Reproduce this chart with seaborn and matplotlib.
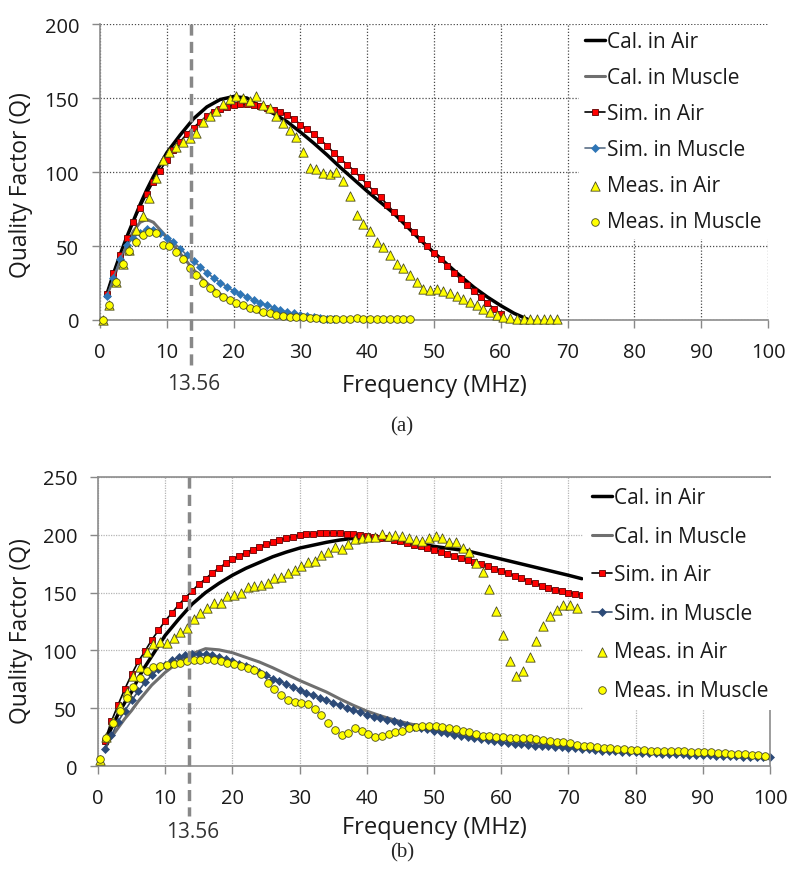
import numpy as np
import matplotlib
matplotlib.use("Agg")
import matplotlib.pyplot as plt
import seaborn as sns

# ---------------- (a) ----------------
cal_air_a_f = [1, 2, 3, 4, 5, 6, 7, 8, 9, 10, 12, 14, 16, 18, 20, 22, 24, 26, 28, 30,
               32, 34, 36, 38, 40, 42, 44, 46, 48, 50, 52, 54, 56, 58, 60, 62, 64]
cal_air_a = [17, 31, 44, 56, 67, 78, 88, 97, 105, 113, 125, 136, 144, 149, 151, 150,
             144, 139.5, 134, 127, 119.5, 111.5, 103, 95, 87, 79.5, 72, 63, 54, 45.5,
             37.5, 29.5, 22, 15.5, 9.7, 4.5, 0.5]

cal_mus_a_f = [1, 2, 3, 4, 5, 6, 7, 8, 9, 10, 12, 14, 16, 18, 20, 22, 24, 26, 28, 30]
cal_mus_a = [16, 28, 40, 51, 60, 66, 68, 66, 61, 56, 45, 34, 25, 17.5, 12, 8.2, 5,
             2.5, 1, 0.2]

sim_air_a_f = np.arange(1, 61)
sim_air_a = [17.3, 31.6, 44, 55.7, 66.5, 76, 85, 93.4, 101, 108,
             115, 120.5, 125.7, 130, 134, 137.6, 140.4, 142.7, 144, 145.4,
             146, 145.8, 145.4, 144.5, 143, 141.8, 140.4, 138.6, 136, 132,
             129, 125.7, 121.7, 117.8, 113, 108.8, 105, 101, 96.4, 91.6,
             87, 83, 78, 73, 68.6, 64, 59.6, 54.6, 50, 45.6,
             41, 36.6, 32, 27.5, 23.5, 19.4, 15.6, 11.3, 7.7, 3.8]

sim_mus_a_f = np.arange(1, 36)
sim_mus_a = [16, 28.7, 41, 50.5, 55.7, 59, 61.4, 61, 59, 55.7,
             52.4, 48.3, 43.8, 40, 35.9, 32, 28.4, 25.3, 22.6, 19.6,
             17.6, 15.6, 13.5, 11.7, 9.9, 8.4, 6.8, 5.4, 4.5, 3.6,
             2.7, 2.0, 1.4, 0.9, 0.6]

meas_air_a_f = np.arange(69) + 0.4
meas_air_a = [0, 10, 26, 38, 47, 60.7, 70.4, 82.4, 96, 108,
              113.8, 116.7, 120, 123, 126.4, 133.6, 138, 141.5, 146, 149.4,
              151.2, 150, 148.3, 151.2, 145, 143, 137.7, 133, 128.4, 123.5,
              113.8, 103, 102, 99.3, 98.6, 99.8, 94, 83.5, 70.9, 64.8,
              60.3, 52.8, 49, 43.8, 38, 35.4, 30.6, 25.8, 21.2, 20.3,
              20.8, 19.6, 18, 16.3, 14.4, 12.2, 10, 7.7, 5.6, 3.6,
              2, 1.1, 0.5, 0.4, 0.4, 0.4, 0.4, 0.4, 0.4]

meas_mus_a_f = np.arange(47) + 0.4
meas_mus_a = [0, 10, 26, 37.7, 46.7, 52.4, 57.3, 59.6, 58.7, 50.6,
              49.7, 46, 41, 35.4, 30.2, 25.3, 21.4, 18, 15.8, 13.5,
              11.7, 9.9, 8.4, 7.2, 5.6, 4.5, 3.6, 2.7, 2.3, 2.0,
              1.8, 1.5, 1.2, 1.0, 0.8, 0.6, 0.5, 0.7, 1.2, 1.0,
              0.8, 0.6, 0.5, 0.5, 0.4, 0.4, 0.4]

# ---------------- (b) ----------------
cal_air_b_f = [1, 2, 3, 4, 5, 6, 7, 8, 9, 10, 12, 14, 16, 18, 20, 22, 24, 26, 28, 30,
               32, 34, 36, 38, 40, 42, 44, 46, 48, 50, 55, 60, 65, 70, 72]
cal_air_b = [20, 33, 45, 55, 64, 76, 86, 95, 104, 113, 127, 140, 150, 158, 165, 171,
             176, 181, 185, 188.5, 191, 193.5, 195.5, 197, 197.5, 197, 195.5, 194,
             192, 190, 186, 179, 172, 165, 162]

cal_mus_b_f = [1, 2, 3, 4, 5, 6, 8, 10, 12, 14, 16, 18, 20, 22, 24, 26, 28, 30, 32,
               34, 36, 38, 40, 42, 44, 46, 48, 50, 55, 60, 65, 70, 75, 80, 85, 90,
               95, 100]
cal_mus_b = [15, 25, 33, 41, 48, 56, 70, 81, 90, 97, 101.5, 100.5, 98, 94, 90, 85,
             79.5, 74, 69, 64, 58, 52.5, 47.5, 43.5, 40, 37, 34.5, 32, 27, 23, 20,
             17.5, 15.5, 13.5, 12, 10.7, 9.5, 8.5]

sim_air_b_f = np.arange(1, 73)
sim_air_b = [22, 38.8, 53.2, 66.8, 79.2, 90.5, 99.4, 109.2, 117.3, 125.7,
             132.3, 139.5, 145.6, 151.4, 157.2, 162, 167, 171.3, 175.3, 178.8,
             181.7, 184.6, 187.2, 189.5, 191.8, 193.8, 195.5, 197, 198.4, 199.6,
             200.4, 201, 201.3, 201.6, 201.6, 201.3, 201, 200.6, 200, 199.2,
             198.4, 197.6, 196.8, 195.6, 194.4, 192.9, 191.3, 190, 188.6, 187,
             185.4, 183.7, 182, 180.2, 178.5, 176.8, 174.7, 172.7, 170.7, 168.7,
             166.7, 164.6, 162.6, 160.3, 158.3, 156, 154, 152.5, 151, 150,
             149, 148]

sim_mus_b_f = np.arange(1, 101)
sim_mus_b = [14.3, 26.4, 38.5, 48, 56.7, 64.8, 72.5, 78.4, 84, 87.6,
             91.3, 94, 95.7, 96.5, 96.8, 96.5, 95.7, 94.2, 92.8, 90.8,
             88.5, 86.1, 84, 81.2, 78.4, 75.5, 73.4, 70.8, 68.3, 65.9,
             63.3, 61, 59, 56.7, 54.7, 52.4, 50.1, 48.5, 46.3, 44.3,
             42.8, 41.4, 40, 38.6, 36.9, 35.4, 34, 32.8, 31.6, 30.6,
             29.4, 28.2, 27.0, 25.9, 24.8, 23.9, 23, 22.1, 21.3, 20.5,
             19.9, 19.3, 18.7, 18.1, 17.6, 17.2, 16.9, 16.6, 16.3, 16.0,
             15.5, 15.0, 14.4, 13.8, 13.3, 13.0, 12.7, 12.4, 12.1, 11.8,
             11.5, 11.2, 10.9, 10.6, 10.4, 10.2, 10.0, 9.8, 9.6, 9.5,
             9.3, 9.0, 8.8, 8.6, 8.4, 8.2, 8.0, 7.8, 7.6, 7.5]

meas_air_b_f = np.arange(72) + 0.25
meas_air_b = [5.5, 25, 39, 52, 64, 78, 85.7, 98.9, 105.5, 107,
              106.4, 110.7, 115.6, 119.4, 127.2, 132.4, 136.7, 140.7, 140.7, 147.3,
              148.2, 149.6, 155.1, 156, 156.9, 158, 162.4, 163.8, 167, 169.9,
              172.8, 176.2, 177.6, 182.5, 185.4, 189.7, 187.7, 192, 196.4, 197,
              198.4, 198.4, 200.7, 199.3, 199.9, 198.8, 197.5, 195.5, 194.9, 197.2,
              198.7, 197.2, 194, 193.5, 188.3, 184.8, 175.6, 168.1, 153.1, 133.8,
              113.3, 90.5, 77.6, 81.9, 94, 108.4, 120.8, 129.5, 135, 139.6,
              139.6, 136.4]

meas_mus_b_f = np.arange(100) + 0.25
meas_mus_b = [6.2, 24, 37.4, 48, 58.5, 68, 75.8, 82.5, 85.4, 86.5,
              87.3, 88.3, 89.3, 90.7, 91.9, 91.9, 92.2, 91.9, 90.5, 89.3,
              88.2, 86.4, 84.7, 82.7, 79.8, 72, 66.8, 61.6, 57, 55.3,
              54.7, 53.8, 49.5, 44.3, 37.6, 31.1, 27.2, 28.2, 33.1, 30.3,
              27.4, 25.4, 26.2, 27.7, 29.1, 30.5, 33, 34, 34.9, 34.9,
              34.3, 34, 33.2, 32.3, 30.6, 29.1, 27.7, 26.2, 25.7, 25.4,
              24.8, 24.5, 24.2, 23.9, 23.9, 23.4, 22.5, 21.6, 21, 20.5,
              19.6, 18.5, 17.6, 17, 16.1, 15.6, 15.3, 14.7, 14.7, 14.1,
              13.8, 13.6, 13.4, 13.3, 13.1, 13.0, 12.8, 12.7, 12.5, 12.3,
              12.1, 11.8, 11.5, 11.1, 10.6, 10.2, 10.0, 9.7, 9.4, 8.9]

ISM_FREQ = 13.56

sns.set_style("white")
plt.rcParams["font.family"] = ["Open Sans", "DejaVu Sans"]

fig = plt.figure(figsize=(8, 8.78), dpi=100)
ax_a = fig.add_axes([0.125, 0.6344, 0.835, 0.3371])
ax_b = fig.add_axes([0.1225, 0.1264, 0.84, 0.3292])


def draw_panel(ax, d, diamond_color, line_color):
    sns.lineplot(x=d["cal_air"][0], y=d["cal_air"][1], ax=ax, color="black", lw=2.5,
                 label="Cal. in Air", errorbar=None, clip_on=False)
    sns.lineplot(x=d["cal_mus"][0], y=d["cal_mus"][1], ax=ax, color="#6f6f6f", lw=2.2,
                 label="Cal. in Muscle", errorbar=None, clip_on=False)
    sns.lineplot(x=d["sim_air"][0], y=d["sim_air"][1], ax=ax, color="black", lw=1.2,
                 marker="s", markersize=5, markerfacecolor="#ff0000",
                 markeredgecolor="#600000", markeredgewidth=0.6,
                 label="Sim. in Air", errorbar=None, clip_on=False)
    sns.lineplot(x=d["sim_mus"][0], y=d["sim_mus"][1], ax=ax, color=line_color, lw=1.2,
                 marker="D", markersize=3.8, markerfacecolor=diamond_color,
                 markeredgecolor=diamond_color, markeredgewidth=0.5,
                 label="Sim. in Muscle", errorbar=None, clip_on=False)
    sns.scatterplot(x=d["meas_air"][0], y=d["meas_air"][1], ax=ax, marker="^", s=45,
                    color="#ffff00", edgecolor="#4a4a20", linewidth=0.6,
                    label="Meas. in Air", zorder=3, clip_on=False)
    sns.scatterplot(x=d["meas_mus"][0], y=d["meas_mus"][1], ax=ax, marker="o", s=30,
                    color="#ffff00", edgecolor="#4a4a20", linewidth=0.6,
                    label="Meas. in Muscle", zorder=3, clip_on=False)


panel_a = {
    "cal_air": (cal_air_a_f, cal_air_a), "cal_mus": (cal_mus_a_f, cal_mus_a),
    "sim_air": (sim_air_a_f, sim_air_a), "sim_mus": (sim_mus_a_f, sim_mus_a),
    "meas_air": (meas_air_a_f, meas_air_a), "meas_mus": (meas_mus_a_f, meas_mus_a),
}
panel_b = {
    "cal_air": (cal_air_b_f, cal_air_b), "cal_mus": (cal_mus_b_f, cal_mus_b),
    "sim_air": (sim_air_b_f, sim_air_b), "sim_mus": (sim_mus_b_f, sim_mus_b),
    "meas_air": (meas_air_b_f, meas_air_b), "meas_mus": (meas_mus_b_f, meas_mus_b),
}

draw_panel(ax_a, panel_a, "#2e75b6", "#5b6f86")
draw_panel(ax_b, panel_b, "#2c4a78", "#3a4f6e")

for ax, ymax, grid_col, grid_ls, leg_x, leg_sp, leg_pad, ylab_x, ylab_y, xlab_y, lab_y, dash_lo in [
        (ax_a, 200, "#4a4a4a", (0, (1, 1.5)), 0.715, 0.72, 0.3, -0.1, 0.46, -0.18, -0.215, -0.155),
        (ax_b, 250, "#b5b5b5", (0, (1, 1)), 0.72, 0.84, 0.45, -0.097, 0.47, -0.168, -0.228, -0.173)]:
    ax.set_xlim(0, 100)
    ax.set_ylim(0, ymax)
    ax.set_xticks(np.arange(0, 101, 10))
    ax.set_yticks(np.arange(0, ymax + 1, 50))
    ax.set_axisbelow(True)
    ax.grid(True, color=grid_col, linestyle=grid_ls, lw=0.9)
    ax.tick_params(axis="both", which="major", bottom=True, left=True, direction="out",
                   length=6, width=1, color="#888888", labelsize=14.5, labelcolor="#1a1a1a")
    ax.tick_params(axis="x", pad=10)
    ax.tick_params(axis="y", pad=9)
    for side in ["left", "bottom", "top", "right"]:
        ax.spines[side].set_color("#8c8c8c")
        ax.spines[side].set_linewidth(1.2)
    ax.set_xlabel("Frequency (MHz)", fontsize=17, color="#1a1a1a")
    ax.set_ylabel("Quality Factor (Q)", fontsize=16.5, color="#1a1a1a")
    ax.xaxis.set_label_coords(0.5, xlab_y)
    ax.yaxis.set_label_coords(ylab_x, ylab_y)

    # 13.56 MHz marker line and label
    tr = ax.get_xaxis_transform()
    ax.plot([ISM_FREQ, ISM_FREQ], [1.0, dash_lo], transform=tr, clip_on=False,
            color="#888888", lw=2.5, linestyle=(0, (3.2, 1.8)), zorder=4)
    ax.text(ISM_FREQ + 0.5, lab_y, "13.56", transform=tr, ha="center", va="center",
            fontsize=15, color="#333333")

    leg = ax.legend(loc="upper left", bbox_to_anchor=(leg_x, 1.0), frameon=True,
                    framealpha=1, facecolor="white", edgecolor="none", fancybox=False,
                    fontsize=15, handlelength=0.95, handletextpad=0.1,
                    labelspacing=leg_sp, borderpad=leg_pad, borderaxespad=0.05)
    for t in leg.get_texts():
        t.set_color("#1a1a1a")

ax_a.spines["top"].set_visible(False)
ax_a.spines["right"].set_visible(False)

fig.text(0.5025, 0.5137, "(a)", ha="center", va="center", fontsize=15,
         family=["Liberation Serif", "DejaVu Serif"])
fig.text(0.5025, 0.0285, "(b)", ha="center", va="center", fontsize=15,
         family=["Liberation Serif", "DejaVu Serif"])

fig.savefig("out.png", dpi=100)
